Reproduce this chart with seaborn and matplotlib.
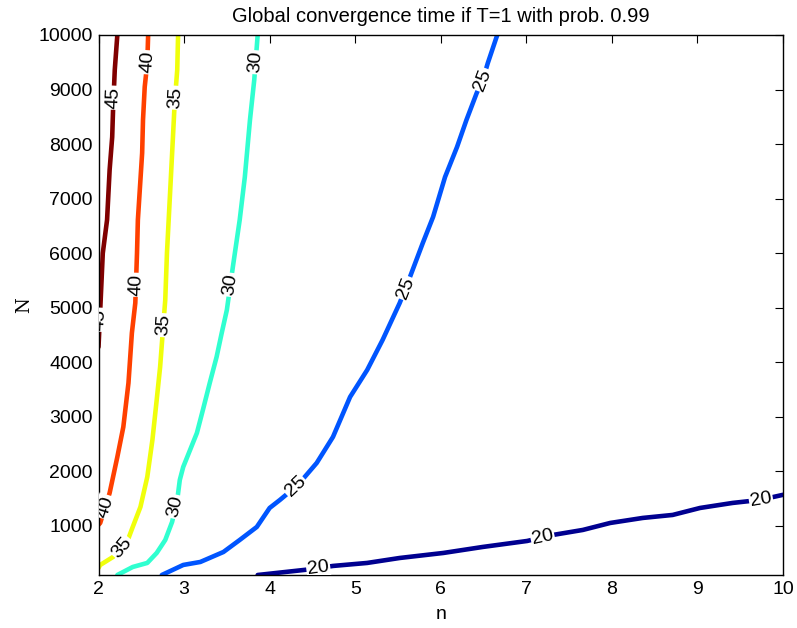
import numpy as np
import pandas as pd
import matplotlib
matplotlib.use("Agg")
import matplotlib.pyplot as plt
import seaborn as sns

# contour levels (convergence time) and their traced paths in (n, N)
levels = [20, 25, 30, 35, 40, 45]

n_20 = [3.86, 4.51, 4.74, 5.14, 5.52, 6.03, 6.49, 7.01, 7.31, 7.66, 7.98, 8.36, 8.71, 9.03, 9.41, 9.73, 10.0]
N_20 = [100, 211, 266, 321, 412, 504, 614, 724, 834, 926, 1054, 1146, 1201, 1329, 1421, 1476, 1570]

n_25 = [2.74, 2.99, 3.19, 3.46, 3.65, 3.85, 4.00, 4.12, 4.26, 4.35, 4.55, 4.74, 4.94, 5.14,
        5.32, 5.52, 5.64, 5.79, 5.91, 6.05, 6.19, 6.30, 6.42, 6.49, 6.55, 6.66]
N_25 = [100, 284, 339, 522, 742, 981, 1329, 1476, 1659, 1788, 2154, 2631, 3364, 3859,
        4409, 5087, 5564, 6187, 6664, 7397, 7947, 8442, 8937, 9175, 9487, 10000]

n_30 = [2.22, 2.40, 2.57, 2.68, 2.78, 2.86, 2.92, 2.95, 2.99, 3.07, 3.15, 3.22, 3.30, 3.38,
        3.44, 3.50, 3.57, 3.65, 3.71, 3.77, 3.82, 3.86]
N_30 = [100, 247, 321, 504, 742, 1072, 1476, 1842, 2081, 2392, 2704, 3126, 3620, 4097,
        4537, 4959, 5747, 6609, 7397, 8442, 9175, 10000]

n_35 = [2.0, 2.02, 2.17, 2.33, 2.40, 2.49, 2.57, 2.63, 2.68, 2.72, 2.75, 2.78, 2.80, 2.84,
        2.87, 2.89, 2.92, 2.93]
N_35 = [230, 284, 431, 688, 981, 1348, 1898, 2576, 3309, 3914, 4537, 5142, 6004, 7214,
        8130, 8753, 9358, 10000]

n_40 = [2.0, 2.02, 2.13, 2.22, 2.29, 2.35, 2.39, 2.43, 2.45, 2.46, 2.51, 2.52, 2.54, 2.57, 2.58]
N_40 = [1020, 1054, 1604, 2264, 2814, 3620, 4537, 5087, 6004, 6609, 7837, 8442, 9047, 9487, 10000]

n_45 = [2.0, 2.02, 2.05, 2.10, 2.13, 2.16, 2.17, 2.19, 2.22]
N_45 = [4280, 4960, 6000, 6610, 7530, 8130, 8630, 9360, 10000]

paths = {20: (n_20, N_20), 25: (n_25, N_25), 30: (n_30, N_30),
         35: (n_35, N_35), 40: (n_40, N_40), 45: (n_45, N_45)}

# where the inline labels sit on each line (N value along the path)
label_N = {20: [225, 790, 1480], 25: [1720, 5360, 9175], 30: [1350, 5420, 9500],
           35: [600, 4680, 8850], 40: [1350, 5420, 9500], 45: [4780, 8850]}

# MATLAB-style jet colours as they appear for each level
level_colors = {20: "#000090", 25: "#0055FF", 30: "#30FFD0",
                35: "#F0FF0C", 40: "#FF4000", 45: "#800000"}

title = "Global convergence time if T=1 with prob. 0.99"
x_ticks = [2, 3, 4, 5, 6, 7, 8, 9, 10]
y_ticks = [1000, 2000, 3000, 4000, 5000, 6000, 7000, 8000, 9000, 10000]

rows = []
for lev in levels:
    ns, Ns = paths[lev]
    for i, (a, b) in enumerate(zip(ns, Ns)):
        rows.append({"level": lev, "order": i, "n": a, "N": b})
df = pd.DataFrame(rows)

sns.set_theme(style="white")
plt.rcParams["font.family"] = ["Liberation Sans", "DejaVu Sans"]
plt.rcParams["text.color"] = "black"
plt.rcParams["axes.labelcolor"] = "black"

fig = plt.figure(figsize=(7.97, 6.28), dpi=100)
ax = fig.add_axes([0.1236, 0.0844, 0.8589, 0.8599])

sns.lineplot(data=df, x="n", y="N", hue="level", units="level", estimator=None,
             sort=False, palette=level_colors, linewidth=3.3,
             legend=False, ax=ax)

ax.set_xlim(2, 10)
ax.set_ylim(100, 10000)
fig.canvas.draw()

for lev in levels:
    ns, Ns = np.array(paths[lev][0]), np.array(paths[lev][1])
    for Nl in label_N[lev]:
        nl = np.interp(Nl, Ns, ns)
        # local direction in screen space for label rotation
        p0 = ax.transData.transform((np.interp(Nl - 150, Ns, ns), Nl - 150))
        p1 = ax.transData.transform((np.interp(Nl + 150, Ns, ns), Nl + 150))
        if lev == 20:
            p0 = ax.transData.transform((nl - 0.2, np.interp(nl - 0.2, ns, Ns)))
            p1 = ax.transData.transform((nl + 0.2, np.interp(nl + 0.2, ns, Ns)))
        ang = np.degrees(np.arctan2(p1[1] - p0[1], p1[0] - p0[0]))
        if ang > 90:
            ang -= 180
        elif ang < -90:
            ang += 180
        ax.text(nl, Nl, str(lev), rotation=ang, rotation_mode="anchor",
                ha="center", va="center", fontsize=14, color="black",
                bbox=dict(boxstyle="square,pad=0.06", fc="white", ec="none"),
                clip_on=True, zorder=5)

ax.set_xticks(x_ticks)
ax.set_yticks(y_ticks)
ax.tick_params(direction="in", length=6, width=0.8, top=True, right=True,
               labelsize=14, pad=4, colors="black")
for sp in ax.spines.values():
    sp.set_color("black")
    sp.set_linewidth(1.0)

ax.set_title(title, fontsize=14.5, pad=9, color="black")
ax.set_xlabel("n", fontsize=14, labelpad=6, color="black")
ax.set_ylabel("N", fontsize=13, family="DejaVu Serif", labelpad=4, color="black")

fig.savefig("out.png", dpi=100)
